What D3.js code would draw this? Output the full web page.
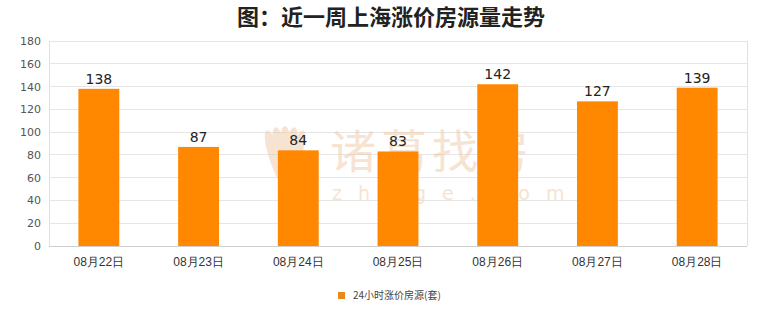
<!DOCTYPE html>
<html><head><meta charset="utf-8">
<script src="https://cdn.jsdelivr.net/npm/d3@7/dist/d3.min.js"></script>
<style>body{margin:0;background:#fff;}svg{display:block;font-family:"Noto Sans CJK SC","DejaVu Sans",sans-serif;}</style>
</head><body><svg id="c" width="780" height="328"></svg>
<script>
const categories = ["08月22日","08月23日","08月24日","08月25日","08月26日","08月27日","08月28日"];
const values = [138, 87, 84, 83, 142, 127, 139];
const yTicks = [0,20,40,60,80,100,120,140,160,180];
const title = "图：近一周上海涨价房源量走势";
const seriesName = "24小时涨价房源(套)";

const svg = d3.select("#c");
const m = {l:49, r:747, t:41, b:246};
const x = d3.scaleBand().domain(categories).range([m.l, m.r]).padding(0);
const y = d3.scaleLinear().domain([0,180]).range([m.b, m.t]);
const barW = x.bandwidth()*0.41;

svg.append("text").attr("x",391).attr("y",25).attr("text-anchor","middle")
  .attr("font-size",22).attr("font-weight","bold").attr("fill","#222").text(title);

// grid
svg.append("g").selectAll("line").data(yTicks).join("line")
  .attr("x1",m.l).attr("x2",m.r).attr("y1",d=>y(d)).attr("y2",d=>y(d))
  .attr("stroke",d=>d===0?"#cfcfcf":"#e6e6e6").attr("stroke-width",1).attr("shape-rendering","crispEdges");
svg.append("line").attr("x1",m.l).attr("x2",m.l).attr("y1",m.t).attr("y2",m.b).attr("stroke","#e0e0e0").attr("shape-rendering","crispEdges");
svg.append("line").attr("x1",m.r).attr("x2",m.r).attr("y1",m.t).attr("y2",m.b).attr("stroke","#e0e0e0").attr("shape-rendering","crispEdges");

// y axis labels
const ya = d3.axisLeft(y).tickValues(yTicks).tickSize(0).tickPadding(8);
const yg = svg.append("g").attr("transform",`translate(${m.l},0)`).call(ya);
yg.select(".domain").remove();
yg.selectAll("text").attr("font-size",11).attr("fill","#555").attr("font-family","'DejaVu Sans',sans-serif");

// watermark (behind bars)
const wm = svg.append("g").attr("opacity",0.5).attr("fill","#f0c8a4");
const logo = wm.append("g").attr("transform","translate(285,158)");
[-20,-10,0,10,20].forEach((a,i)=>{
  logo.append("ellipse").attr("cx",0).attr("cy",0).attr("rx",7).attr("ry",32)
    .attr("transform",`rotate(${a}) translate(${(i-2)*4},0)`).attr("fill","#f0c8a4");
});
wm.append("text").attr("x",330).attr("y",168).attr("font-size",46).attr("letter-spacing",5).text("诸葛找房");
wm.append("text").attr("x",332).attr("y",200).attr("font-size",19).attr("letter-spacing",16).attr("font-family","'DejaVu Sans',sans-serif").text("zhuge.com");

// bars
svg.append("g").selectAll("rect").data(values).join("rect")
  .attr("x",(d,i)=>x(categories[i])+x.bandwidth()/2-barW/2).attr("width",barW)
  .attr("y",d=>y(d)).attr("height",d=>y(0)-y(d)).attr("fill","#ff8800");

svg.append("g").selectAll("text").data(values).join("text")
  .attr("x",(d,i)=>x(categories[i])+x.bandwidth()/2).attr("y",d=>y(d)-5)
  .attr("text-anchor","middle").attr("font-size",14).attr("fill","#222")
  .attr("font-family","'DejaVu Sans',sans-serif").text(d=>d);

// x axis labels
const xa = d3.axisBottom(x).tickSize(0).tickPadding(11);
const xg = svg.append("g").attr("transform",`translate(0,${m.b})`).call(xa);
xg.select(".domain").remove();
xg.selectAll("text").attr("font-size",12).attr("fill","#333");

// legend
svg.append("rect").attr("x",338).attr("y",292).attr("width",7).attr("height",7).attr("fill","#e88a1a");
svg.append("text").attr("x",353).attr("y",299).attr("font-size",10).attr("fill","#444").text(seriesName);
</script></body></html>
